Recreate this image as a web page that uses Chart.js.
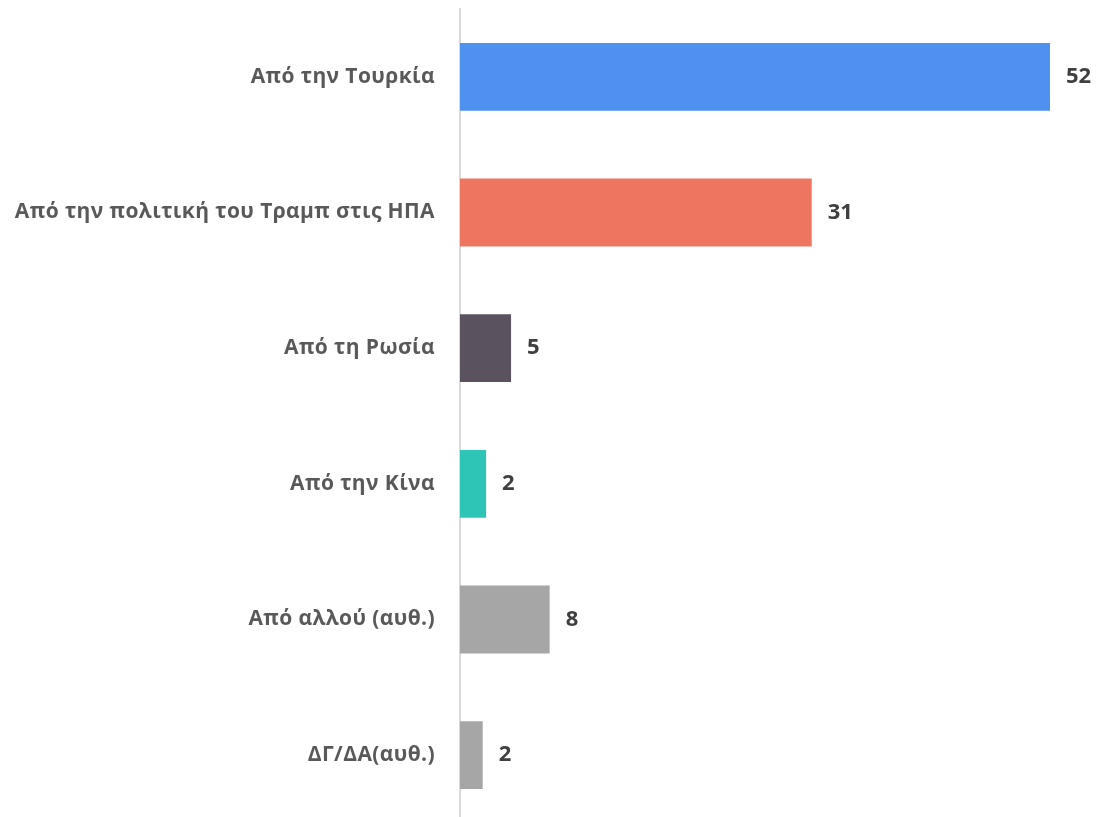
<!DOCTYPE html>
<html>
<head>
<meta charset="utf-8">
<script src="https://cdn.jsdelivr.net/npm/chart.js@4"></script>
<style>
html,body{margin:0;padding:0;background:#fff;overflow:hidden;}
canvas{display:block;}
</style>
</head>
<body>
<canvas id="c" width="1099" height="823"></canvas>
<script>
const categories = [
  "Από την Τουρκία",
  "Από την πολιτική του Τραμπ στις ΗΠΑ",
  "Από τη Ρωσία",
  "Από την Κίνα",
  "Από αλλού (αυθ.)",
  "ΔΓ/ΔΑ(αυθ.)"
];
const values = [52, 31, 4.5, 2.3, 7.9, 2];
const valueLabels = ["52", "31", "5", "2", "8", "2"];
const barColors = ["#4F91EF", "#EE7560", "#5A525F", "#2EC4B6", "#A6A6A6", "#A6A6A6"];

const labelPlugin = {
  id: 'customLabels',
  afterDatasetsDraw(chart) {
    const ctx = chart.ctx;
    const meta = chart.getDatasetMeta(0);
    const yScale = chart.scales.y;
    ctx.save();
    ctx.textBaseline = 'middle';
    ctx.font = 'bold 21px "Open Sans"';
    ctx.fillStyle = '#595959';
    ctx.textAlign = 'right';
    if ('letterSpacing' in ctx) ctx.letterSpacing = '0.4px';
    categories.forEach((lab, i) => {
      const y = yScale.getPixelForValue(i);
      ctx.fillText(lab, chart.chartArea.left - 25, y);
    });
    if ('letterSpacing' in ctx) ctx.letterSpacing = '0px';
    ctx.font = 'bold 22px "Open Sans"';
    ctx.fillStyle = '#404040';
    ctx.textAlign = 'left';
    meta.data.forEach((bar, i) => {
      ctx.fillText(valueLabels[i], bar.x + 16, bar.y);
    });
    ctx.restore();
  }
};

new Chart(document.getElementById('c'), {
  type: 'bar',
  data: {
    labels: categories,
    datasets: [{
      data: values,
      backgroundColor: barColors,
      borderWidth: 0,
      barPercentage: 0.5,
      categoryPercentage: 1.0
    }]
  },
  options: {
    indexAxis: 'y',
    responsive: false,
    animation: false,
    layout: { padding: { top: 9, right: 49, bottom: 0, left: 0 } },
    plugins: { legend: { display: false }, tooltip: { enabled: false } },
    scales: {
      x: { display: false, min: 0, max: 52 },
      y: {
        afterFit(scale) { scale.width = 460; },
        grid: { display: false, drawTicks: false },
        border: { display: true, color: '#D9D9D9', width: 2 },
        ticks: { display: false }
      }
    }
  },
  plugins: [labelPlugin]
});
</script>
</body>
</html>
